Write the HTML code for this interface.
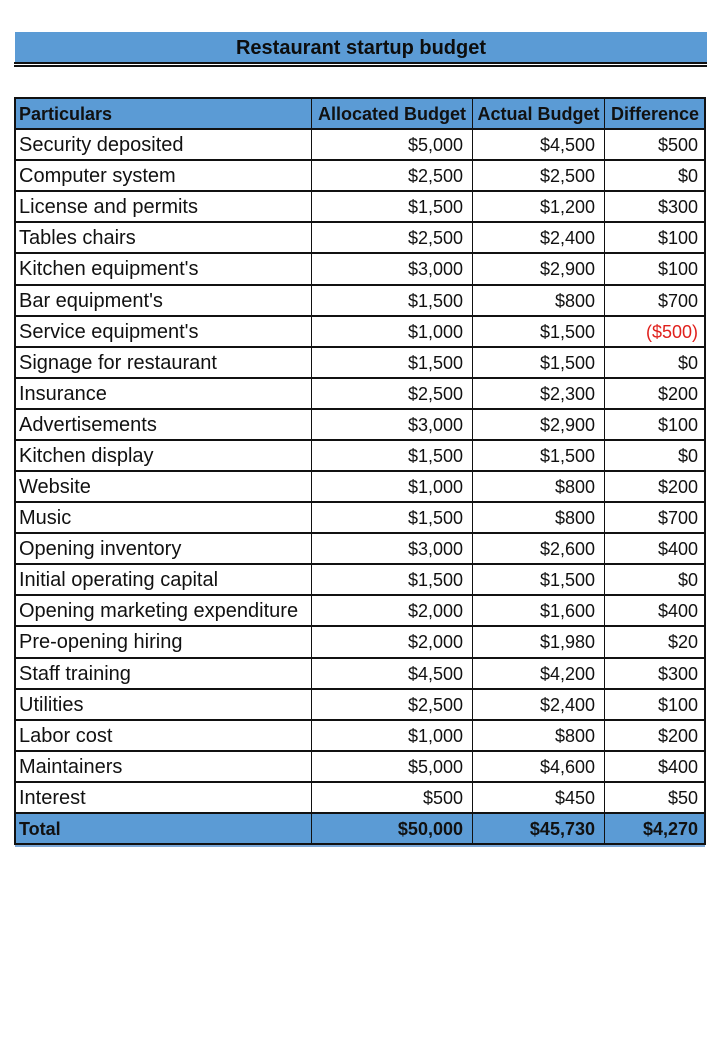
<!DOCTYPE html>
<html><head><meta charset="utf-8"><style>
html,body{margin:0;padding:0;background:#fff;}
body{width:720px;height:1040px;position:relative;overflow:hidden;font-family:"Liberation Sans",Arial,sans-serif;color:#111;}
.title{position:absolute;left:15px;top:32px;width:692px;height:31px;background:#5b9bd5;font-weight:bold;font-size:20px;line-height:33px;text-align:center;color:#0d0d0d;}
.hl{position:absolute;background:#111;}
.row{position:absolute;left:15px;width:690px;height:31.087px;display:flex;}
.row div{height:100%;line-height:32px;box-sizing:border-box;white-space:nowrap;overflow:hidden;}
.row .c1{width:296px;padding-left:4px;font-size:20px;line-height:33px;}
.c2{width:161px;text-align:right;padding-right:9px;font-size:18px;border-left:1px solid #111;}
.c3{width:132px;text-align:right;padding-right:9px;font-size:18px;border-left:1px solid #111;}
.c4{width:101px;text-align:right;padding-right:7px;font-size:18px;border-left:1px solid #111;}
.hdr,.tot{background:#5b9bd5;font-weight:bold;}
.hdr div{font-size:18px;}
.row.hdr .c1,.row.tot .c1{font-size:18px;line-height:32px;}
.hdr .c2,.hdr .c3,.hdr .c4{text-align:center;padding-right:0;}
.red{color:#e0201c;}
</style></head><body>
<div class="title">Restaurant startup budget</div>
<div class="hl" style="left:14px;top:62px;width:693px;height:1.5px;"></div>
<div class="hl" style="left:14px;top:65px;width:693px;height:1.5px;"></div>

<div class="row hdr" style="top:98px"><div class="c1">Particulars</div><div class="c2">Allocated Budget</div><div class="c3">Actual Budget</div><div class="c4">Difference</div></div>
<div class="row" style="top:129.09px"><div class="c1">Security deposited</div><div class="c2">$5,000</div><div class="c3">$4,500</div><div class="c4">$500</div></div>
<div class="row" style="top:160.17px"><div class="c1">Computer system</div><div class="c2">$2,500</div><div class="c3">$2,500</div><div class="c4">$0</div></div>
<div class="row" style="top:191.26px"><div class="c1">License and permits</div><div class="c2">$1,500</div><div class="c3">$1,200</div><div class="c4">$300</div></div>
<div class="row" style="top:222.35px"><div class="c1">Tables chairs</div><div class="c2">$2,500</div><div class="c3">$2,400</div><div class="c4">$100</div></div>
<div class="row" style="top:253.43px"><div class="c1">Kitchen equipment's</div><div class="c2">$3,000</div><div class="c3">$2,900</div><div class="c4">$100</div></div>
<div class="row" style="top:284.52px"><div class="c1">Bar equipment's</div><div class="c2">$1,500</div><div class="c3">$800</div><div class="c4">$700</div></div>
<div class="row" style="top:315.61px"><div class="c1">Service equipment's</div><div class="c2">$1,000</div><div class="c3">$1,500</div><div class="c4 red">($500)</div></div>
<div class="row" style="top:346.70px"><div class="c1">Signage for restaurant</div><div class="c2">$1,500</div><div class="c3">$1,500</div><div class="c4">$0</div></div>
<div class="row" style="top:377.78px"><div class="c1">Insurance</div><div class="c2">$2,500</div><div class="c3">$2,300</div><div class="c4">$200</div></div>
<div class="row" style="top:408.87px"><div class="c1">Advertisements</div><div class="c2">$3,000</div><div class="c3">$2,900</div><div class="c4">$100</div></div>
<div class="row" style="top:439.96px"><div class="c1">Kitchen display</div><div class="c2">$1,500</div><div class="c3">$1,500</div><div class="c4">$0</div></div>
<div class="row" style="top:471.04px"><div class="c1">Website</div><div class="c2">$1,000</div><div class="c3">$800</div><div class="c4">$200</div></div>
<div class="row" style="top:502.13px"><div class="c1">Music</div><div class="c2">$1,500</div><div class="c3">$800</div><div class="c4">$700</div></div>
<div class="row" style="top:533.22px"><div class="c1">Opening inventory</div><div class="c2">$3,000</div><div class="c3">$2,600</div><div class="c4">$400</div></div>
<div class="row" style="top:564.30px"><div class="c1">Initial operating capital</div><div class="c2">$1,500</div><div class="c3">$1,500</div><div class="c4">$0</div></div>
<div class="row" style="top:595.39px"><div class="c1">Opening marketing expenditure</div><div class="c2">$2,000</div><div class="c3">$1,600</div><div class="c4">$400</div></div>
<div class="row" style="top:626.48px"><div class="c1">Pre-opening hiring</div><div class="c2">$2,000</div><div class="c3">$1,980</div><div class="c4">$20</div></div>
<div class="row" style="top:657.57px"><div class="c1">Staff training</div><div class="c2">$4,500</div><div class="c3">$4,200</div><div class="c4">$300</div></div>
<div class="row" style="top:688.65px"><div class="c1">Utilities</div><div class="c2">$2,500</div><div class="c3">$2,400</div><div class="c4">$100</div></div>
<div class="row" style="top:719.74px"><div class="c1">Labor cost</div><div class="c2">$1,000</div><div class="c3">$800</div><div class="c4">$200</div></div>
<div class="row" style="top:750.83px"><div class="c1">Maintainers</div><div class="c2">$5,000</div><div class="c3">$4,600</div><div class="c4">$400</div></div>
<div class="row" style="top:781.91px"><div class="c1">Interest</div><div class="c2">$500</div><div class="c3">$450</div><div class="c4">$50</div></div>
<div class="row tot" style="top:813px"><div class="c1">Total</div><div class="c2">$50,000</div><div class="c3">$45,730</div><div class="c4">$4,270</div></div>

<!-- horizontal lines -->
<div class="hl" style="left:14px;width:692px;top:97px;height:2px"></div>
<div class="hl" style="left:14px;width:692px;top:128px;height:2px"></div>
<div class="hl" style="left:14px;width:692px;top:159px;height:2px"></div>
<div class="hl" style="left:14px;width:692px;top:190px;height:2px"></div>
<div class="hl" style="left:14px;width:692px;top:221px;height:2px"></div>
<div class="hl" style="left:14px;width:692px;top:252px;height:2px"></div>
<div class="hl" style="left:14px;width:692px;top:284px;height:2px"></div>
<div class="hl" style="left:14px;width:692px;top:315px;height:2px"></div>
<div class="hl" style="left:14px;width:692px;top:346px;height:2px"></div>
<div class="hl" style="left:14px;width:692px;top:377px;height:2px"></div>
<div class="hl" style="left:14px;width:692px;top:408px;height:2px"></div>
<div class="hl" style="left:14px;width:692px;top:439px;height:2px"></div>
<div class="hl" style="left:14px;width:692px;top:470px;height:2px"></div>
<div class="hl" style="left:14px;width:692px;top:501px;height:2px"></div>
<div class="hl" style="left:14px;width:692px;top:532px;height:2px"></div>
<div class="hl" style="left:14px;width:692px;top:563px;height:2px"></div>
<div class="hl" style="left:14px;width:692px;top:594px;height:2px"></div>
<div class="hl" style="left:14px;width:692px;top:625px;height:2px"></div>
<div class="hl" style="left:14px;width:692px;top:657px;height:2px"></div>
<div class="hl" style="left:14px;width:692px;top:688px;height:2px"></div>
<div class="hl" style="left:14px;width:692px;top:719px;height:2px"></div>
<div class="hl" style="left:14px;width:692px;top:750px;height:2px"></div>
<div class="hl" style="left:14px;width:692px;top:781px;height:2px"></div>
<div class="hl" style="left:14px;width:692px;top:812px;height:2px"></div>
<div class="hl" style="left:14px;width:692px;top:843px;height:2px"></div>
<div style="position:absolute;left:15px;width:690px;top:845px;height:2px;background:#7aa6d6"></div>
<!-- outer verticals -->
<div class="hl" style="left:14px;width:2px;top:97px;height:748px"></div>
<div class="hl" style="left:704px;width:2px;top:97px;height:748px"></div>
</body></html>
